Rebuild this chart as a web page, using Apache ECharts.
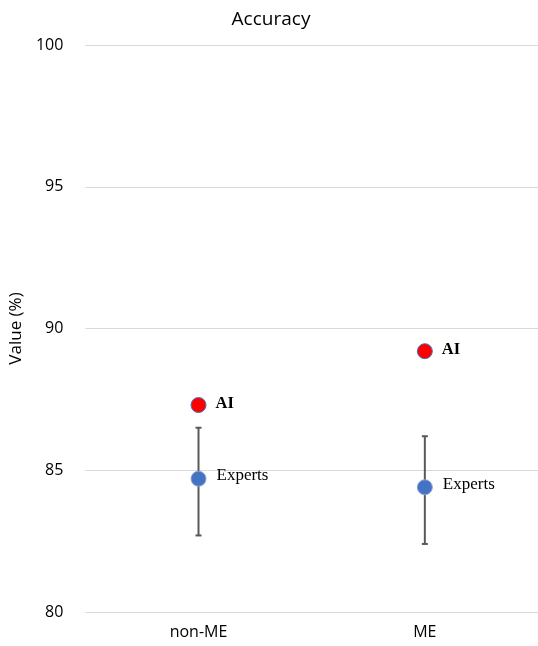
<!DOCTYPE html>
<html>
<head>
<meta charset="utf-8">
<script src="https://cdn.jsdelivr.net/npm/echarts@6/dist/echarts.min.js"></script>
<style>
  html, body { margin: 0; padding: 0; background: #fff; }
  #chart { width: 538px; height: 646px; }
</style>
</head>
<body>
<div id="chart"></div>
<script>
// Accuracy of the AI model vs. expert readers
const categories = ['non-ME', 'ME'];
const aiValues = [87.3, 89.2];
const expertValues = [84.7, 84.4];
const expertUpper = [86.5, 86.2];
const expertLower = [82.7, 82.4];
const yTicks = [80, 85, 90, 95, 100];

const errorData = categories.map((c, i) => [i, expertLower[i], expertUpper[i]]);

const chart = echarts.init(document.getElementById('chart'), null, { renderer: 'canvas' });

chart.setOption({
  animation: false,
  backgroundColor: '#ffffff',
  title: {
    text: 'Accuracy',
    left: 266,
    top: 5,
    textAlign: 'center',
    textStyle: { fontFamily: 'Open Sans', fontSize: 19, fontWeight: 'normal', color: '#000' }
  },
  grid: { left: 80, right: -4, top: 45, bottom: 34, containLabel: false },
  xAxis: {
    type: 'category',
    data: categories,
    boundaryGap: true,
    axisLine: { show: false },
    axisTick: { show: false },
    axisLabel: { fontFamily: 'Open Sans', fontSize: 16, color: '#000', margin: 12 }
  },
  yAxis: {
    type: 'value',
    min: yTicks[0],
    max: yTicks[yTicks.length - 1],
    interval: 5,
    name: 'Value (%)',
    nameLocation: 'middle',
    nameGap: 45,
    nameRotate: 90,
    nameTextStyle: { fontFamily: 'Open Sans', fontSize: 17, color: '#000' },
    axisLine: { show: false },
    axisTick: { show: false },
    axisLabel: { fontFamily: 'Open Sans', fontSize: 16, color: '#000', margin: 22 },
    splitLine: { lineStyle: { color: '#d9d9d9', width: 1 } }
  },
  series: [
    {
      name: 'Experts range',
      type: 'custom',
      data: errorData,
      z: 2,
      renderItem: function (params, api) {
        const x = api.value(0);
        const lo = api.coord([x, api.value(1)]);
        const hi = api.coord([x, api.value(2)]);
        const cap = 3;
        const style = { stroke: '#595959', lineWidth: 2 };
        return {
          type: 'group',
          children: [
            { type: 'line', shape: { x1: hi[0], y1: hi[1], x2: lo[0], y2: lo[1] }, style: style },
            { type: 'line', shape: { x1: hi[0] - cap, y1: hi[1], x2: hi[0] + cap, y2: hi[1] }, style: style },
            { type: 'line', shape: { x1: lo[0] - cap, y1: lo[1], x2: lo[0] + cap, y2: lo[1] }, style: style }
          ]
        };
      }
    },
    {
      name: 'Experts',
      type: 'scatter',
      data: expertValues,
      symbol: 'circle',
      symbolSize: 15,
      z: 3,
      itemStyle: { color: '#4472c4', borderColor: '#8fa6cf', borderWidth: 1, opacity: 1 },
      label: {
        show: true,
        position: 'right',
        distance: 10,
        offset: [0, -3],
        formatter: 'Experts',
        fontFamily: 'Liberation Serif',
        fontSize: 17,
        color: '#000'
      }
    },
    {
      name: 'AI',
      type: 'scatter',
      data: aiValues,
      symbol: 'circle',
      symbolSize: 15,
      z: 4,
      itemStyle: { color: '#ff0000', borderColor: '#4472c4', borderWidth: 1, opacity: 1 },
      label: {
        show: true,
        position: 'right',
        distance: 9,
        offset: [0, -1],
        formatter: 'AI',
        fontFamily: 'Liberation Serif',
        fontWeight: 'bold',
        fontSize: 16.5,
        color: '#000'
      }
    }
  ]
});
</script>
</body>
</html>
